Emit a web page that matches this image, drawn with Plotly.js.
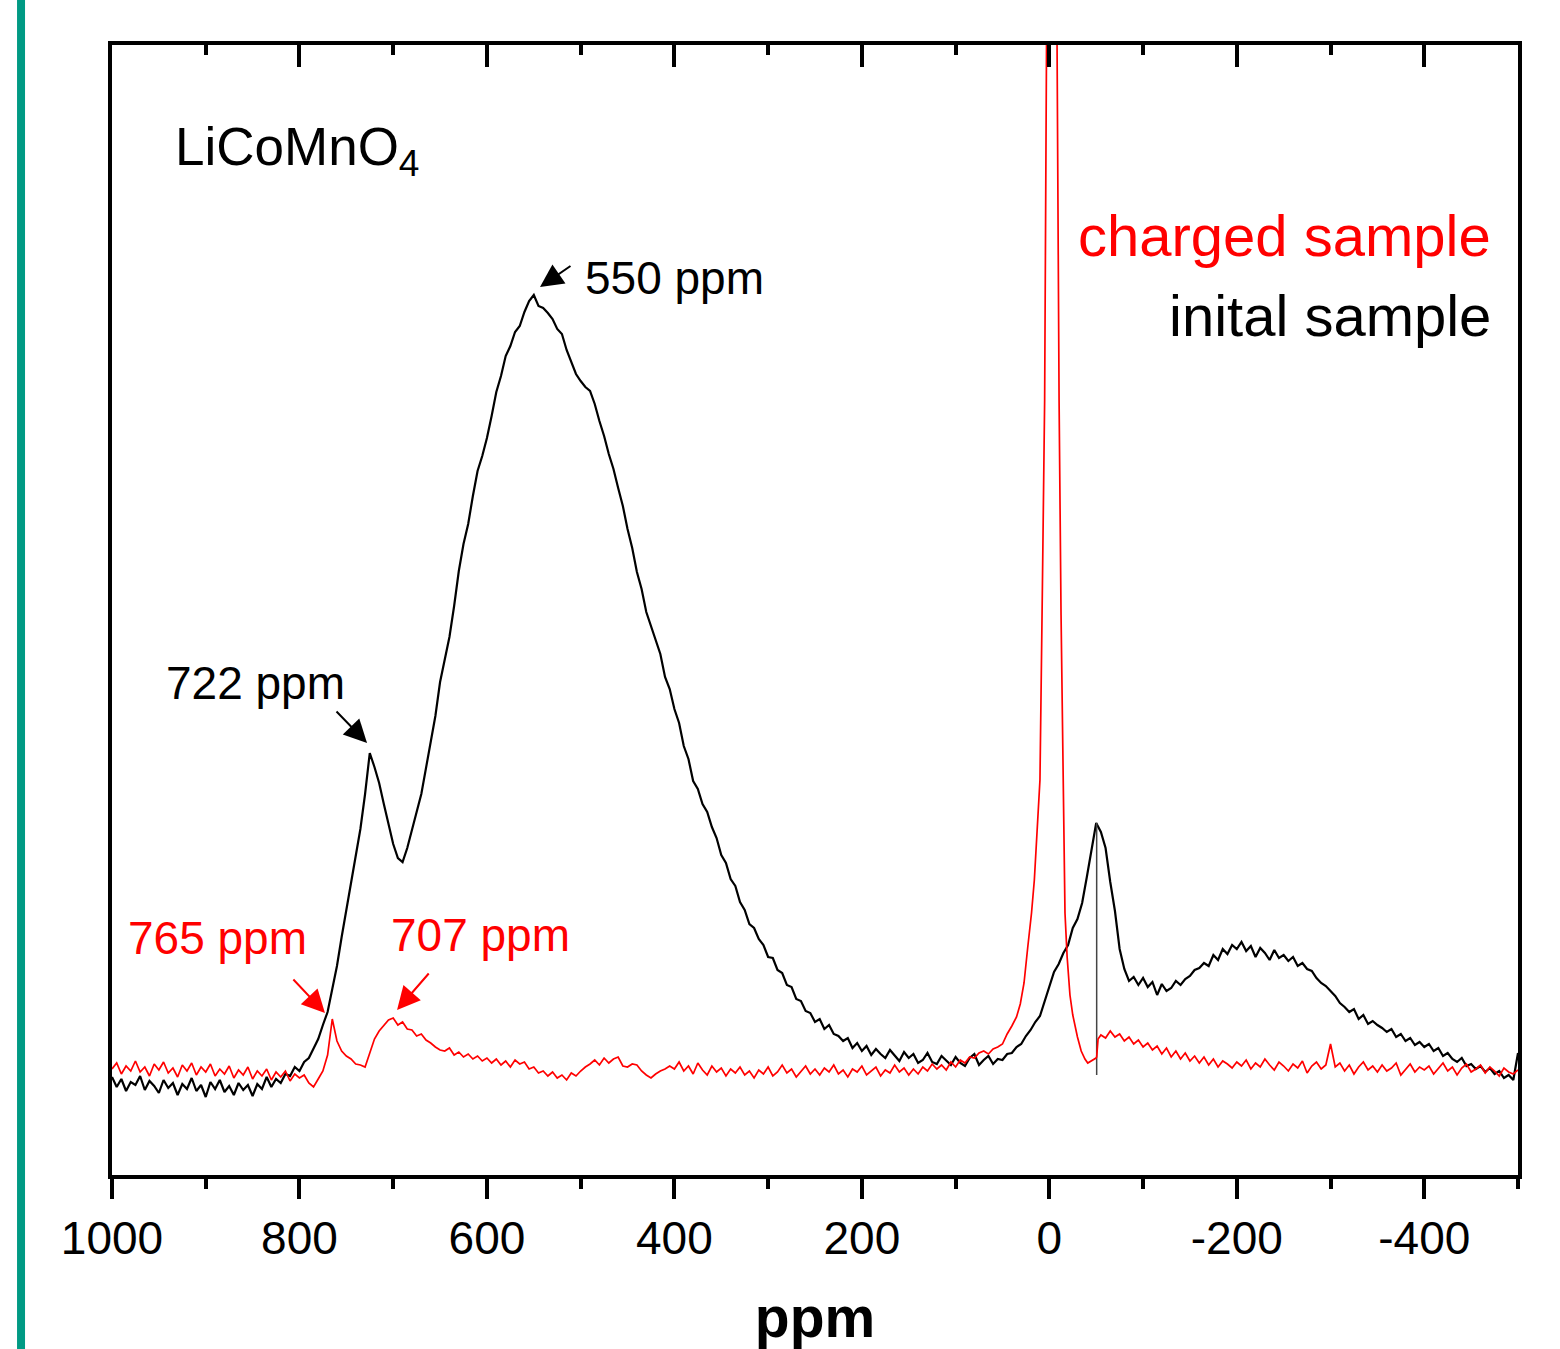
<!DOCTYPE html>
<html>
<head>
<meta charset="utf-8">
<script src="https://cdn.plot.ly/plotly-3.0.1.min.js"></script>
<style>
html,body{margin:0;padding:0;background:#fff;}
#chart{width:1560px;height:1349px;}
</style>
</head>
<body>
<div id="chart"></div>
<script>
// ---------- data ----------
// x tick labels
var tickValues = [1000, 800, 600, 400, 200, 0, -200, -400];
var tickLabels = ["1000", "800", "600", "400", "200", "0", "-200", "-400"];
var minorTickValues = [900, 700, 500, 300, 100, -100, -300, -500];

// initial sample (black), ppm 1000 .. -500, every 5 ppm
var initialY = [
  98, 88, 96, 84, 93, 90, 99, 85, 94, 89,
  82, 95, 87, 92, 80, 91, 86, 97, 84, 90,
  78, 93, 86, 95, 83, 89, 80, 92, 85, 90,
  79, 91, 86, 98, 88, 96, 92, 101, 99, 108,
  104, 113, 117, 126, 136, 150, 163, 186, 209, 238,
  266, 291, 320, 346, 381, 422, 408, 392, 371, 350,
  331, 317, 313, 327, 344, 363, 381, 406, 431, 459,
  493, 514, 538, 569, 604, 631, 651, 679, 704, 719,
  737, 759, 783, 799, 819, 829, 843, 849, 863, 874,
  880, 869, 867, 862, 856, 846, 841, 825, 813, 801,
  794, 788, 784, 771, 754, 739, 721, 706, 687, 669,
  646, 627, 603, 586, 563, 549, 533, 521, 498, 486,
  466, 452, 429, 416, 394, 386, 371, 363, 348, 337,
  320, 312, 296, 289, 273, 265, 251, 247, 236, 230,
  218, 217, 205, 202, 190, 188, 176, 174, 164, 162,
  153, 156, 146, 150, 141, 139, 134, 137, 127, 132,
  124, 129, 120, 126, 121, 117, 125, 119, 114, 123,
  117, 121, 112, 115, 122, 113, 111, 119, 114, 110,
  118, 112, 109, 117, 121, 110, 115, 119, 111, 116,
  115, 121, 122, 128, 131, 139, 145, 153, 159, 173,
  187, 203, 211, 222, 230, 247, 256, 272, 298, 326,
  352, 343, 327, 293, 264, 226, 206, 194, 198, 190,
  197, 188, 193, 180, 191, 184, 187, 194, 190, 196,
  199, 205, 207, 212, 209, 220, 215, 226, 221, 230,
  226, 233, 224, 229, 218, 227, 222, 215, 225, 217,
  220, 214, 218, 209, 212, 206, 204, 197, 192, 189,
  184, 179, 172, 168, 163, 166, 156, 160, 151, 154,
  150, 147, 143, 146, 138, 141, 134, 137, 130, 133,
  128, 131, 124, 127, 119, 122, 116, 113, 117, 109,
  111, 106, 109, 103, 107, 101, 104, 97, 100, 95,
  122
];

// thin artefact line of the initial sample at about -50 ppm
var artefactX = [-50.5, -50.5];
var artefactY = [352, 100];

// charged sample (red), part A: ppm 1000 .. 50, every 5 ppm
var chargedA = [
  106, 112, 101, 109, 104, 114, 103, 108, 99, 111,
  105, 113, 102, 107, 98, 110, 104, 112, 100, 108,
  103, 111, 99, 106, 101, 109, 97, 105, 100, 108,
  96, 104, 99, 106, 95, 103, 98, 104, 94, 101,
  97, 100, 92, 88, 96, 104, 120, 156, 134, 124,
  119, 116, 111, 110, 108, 122, 136, 144, 150, 155,
  157, 150, 153, 146, 145, 139, 141, 135, 132, 128,
  125, 124, 127, 120, 123, 118, 121, 116, 119, 114,
  117, 112, 116, 110, 114, 108, 115, 111, 113, 106,
  108, 102, 104, 99, 103, 97, 100, 95, 102, 99,
  104, 108, 111, 115, 110, 117, 112, 116, 118, 109,
  108, 111, 110, 104, 100, 97, 101, 104, 106, 109,
  106, 113, 104, 109, 101, 112, 105, 100, 109, 103,
  107, 99, 106, 102, 108, 100, 104, 97, 105, 101,
  108, 99, 103, 110, 102, 106, 98, 104, 109, 101,
  106, 100, 107, 103, 110, 101, 105, 98, 106, 103,
  109, 100, 104, 108, 99, 105, 102, 110, 103, 107,
  100, 106, 101, 108, 104, 111, 106, 110, 105, 113,
  108, 115, 112, 118, 117, 122, 124, 121, 126, 128,
  131
];
// charged sample, part B: the strong line near 0 ppm
var chargedPeakX = [45, 40, 35, 31, 27, 23, 19, 16, 12, 10, 7.5, 5, 3, 1, -2.5, -6, -8.2, -10.4, -12.5, -14.6, -16.7, -19, -22, -25, -30, -34, -38, -41, -45, -49.8, -50.5, -52];
var chargedPeakY = [141, 149, 158, 171, 192, 228, 262, 295, 362, 395, 580, 775, 1130, 1500, 2090, 1500, 1130, 775, 560, 395, 262, 218, 180, 160, 138, 124, 116, 112, 114, 117, 118, 136];
// charged sample, part C: ppm -55 .. -500, every 5 ppm
var chargedC = [
  140, 137, 144, 138, 141, 134, 138, 131, 135, 128,
  132, 125, 129, 121, 127, 118, 124, 116, 122, 114,
  119, 112, 118, 110, 116, 108, 114, 111, 107, 113,
  109, 115, 106, 112, 108, 116, 110, 105, 113, 109,
  104, 111, 107, 114, 102, 109, 113, 106, 110, 131,
  108, 112, 104, 110, 101, 108, 113, 105, 109, 103,
  110, 104, 107, 112, 100, 106, 111, 103, 108, 105,
  109, 101, 106, 112, 104, 108, 100, 107, 111, 103,
  106, 110, 102, 108, 104, 99, 107, 103, 101, 105
];

// ---------- build ----------
function seq(a, b, step) {
  var out = [];
  for (var v = a; step < 0 ? v >= b - 1e-9 : v <= b + 1e-9; v += step) out.push(Math.round(v * 100) / 100);
  return out;
}
var initialX = seq(1000, -500, -5);
var chargedX = seq(1000, 50, -5).concat(chargedPeakX, seq(-55, -500, -5));
var chargedY = chargedA.concat(chargedPeakY, chargedC);

var FONT = "Liberation Sans, Arial, Helvetica, sans-serif";

var traces = [
  {x: initialX, y: initialY, type: "scatter", mode: "lines", name: "inital sample",
   line: {color: "#000000", width: 2.2}, hoverinfo: "skip"},
  {x: artefactX, y: artefactY, type: "scatter", mode: "lines", name: "artefact",
   line: {color: "#444444", width: 1.5}, hoverinfo: "skip"},
  {x: chargedX, y: chargedY, type: "scatter", mode: "lines", name: "charged sample",
   line: {color: "#ff0000", width: 1.7}, hoverinfo: "skip"},
  {x: [], y: [], xaxis: "x2", type: "scatter", mode: "lines", showlegend: false, hoverinfo: "skip"}
];

var arrowStyle = {arrowhead: 2, arrowsize: 2.3, arrowwidth: 2};

function arrow(x, y, ax, ay, color) {
  return Object.assign({xref: "x", yref: "y", x: x, y: y, ax: ax, ay: ay, text: "", showarrow: true, arrowcolor: color}, arrowStyle);
}

var layout = {
  width: 1560, height: 1349,
  margin: {l: 112, r: 42, t: 45, b: 174, pad: 0},
  paper_bgcolor: "#ffffff", plot_bgcolor: "#ffffff",
  showlegend: false,
  font: {family: FONT, color: "#000"},
  xaxis: {
    range: [1000, -500], autorange: false,
    showline: true, linewidth: 4, linecolor: "#000",
    showgrid: false, zeroline: false,
    ticks: "outside", ticklen: 20, tickwidth: 4, tickcolor: "#000",
    tickmode: "array", tickvals: tickValues, ticktext: tickLabels,
    tickfont: {size: 46, family: FONT, color: "#000"},
    minor: {tickmode: "array", tickvals: minorTickValues, ticks: "outside", ticklen: 10, tickwidth: 4, tickcolor: "#000", showgrid: false},
    title: {text: "ppm", font: {size: 57, family: FONT, color: "#000", weight: "bold"}, standoff: 48}
  },
  xaxis2: {
    overlaying: "x", side: "top", anchor: "y",
    range: [1000, -500], autorange: false,
    showline: true, linewidth: 4, linecolor: "#000",
    showgrid: false, zeroline: false, showticklabels: false,
    ticks: "inside", ticklen: 22, tickwidth: 4, tickcolor: "#000",
    tickmode: "array", tickvals: tickValues,
    minor: {tickmode: "array", tickvals: minorTickValues, ticks: "inside", ticklen: 10, tickwidth: 4, tickcolor: "#000", showgrid: false}
  },
  yaxis: {
    range: [0, 1130], autorange: false,
    showline: true, linewidth: 4, linecolor: "#000", mirror: true,
    showgrid: false, zeroline: false, ticks: "", showticklabels: false
  },
  shapes: [
    {type: "line", xref: "paper", yref: "paper", x0: -0.0647, x1: -0.0647, y0: -0.2, y1: 1.1,
     line: {color: "#009a84", width: 8}}
  ],
  annotations: [
    {xref: "x", yref: "y", x: 935, y: 1025, xanchor: "left", yanchor: "middle", showarrow: false,
     text: "LiCoMnO<sub>4</sub>", font: {size: 53, family: FONT, color: "#000"}},
    {xref: "x", yref: "y", x: 497.5, y: 897, xanchor: "left", yanchor: "middle", showarrow: false,
     text: "550 ppm", font: {size: 46, family: FONT, color: "#000"}},
    {xref: "x", yref: "y", x: 944, y: 492, xanchor: "left", yanchor: "middle", showarrow: false,
     text: "722 ppm", font: {size: 46, family: FONT, color: "#000"}},
    {xref: "x", yref: "y", x: 985, y: 237, xanchor: "left", yanchor: "middle", showarrow: false,
     text: "765 ppm", font: {size: 46, family: FONT, color: "#ff0000"}},
    {xref: "x", yref: "y", x: 704, y: 240, xanchor: "left", yanchor: "middle", showarrow: false,
     text: "707 ppm", font: {size: 46, family: FONT, color: "#ff0000"}},
    {xref: "x", yref: "y", x: -473.5, y: 940, xanchor: "right", yanchor: "middle", showarrow: false,
     text: "charged sample", font: {size: 58, family: FONT, color: "#ff0000"}},
    {xref: "x", yref: "y", x: -473.5, y: 860, xanchor: "right", yanchor: "middle", showarrow: false,
     text: "inital sample", font: {size: 58, family: FONT, color: "#000"}},
    arrow(543.4, 888, 32, -22, "#000"),
    arrow(727.9, 432, -32, -33, "#000"),
    arrow(772.8, 162, -33, -35, "#ff0000"),
    arrow(695.9, 165, 33, -38, "#ff0000")
  ]
};

Plotly.newPlot("chart", traces, layout, {staticPlot: true, displayModeBar: false});
</script>
</body>
</html>
